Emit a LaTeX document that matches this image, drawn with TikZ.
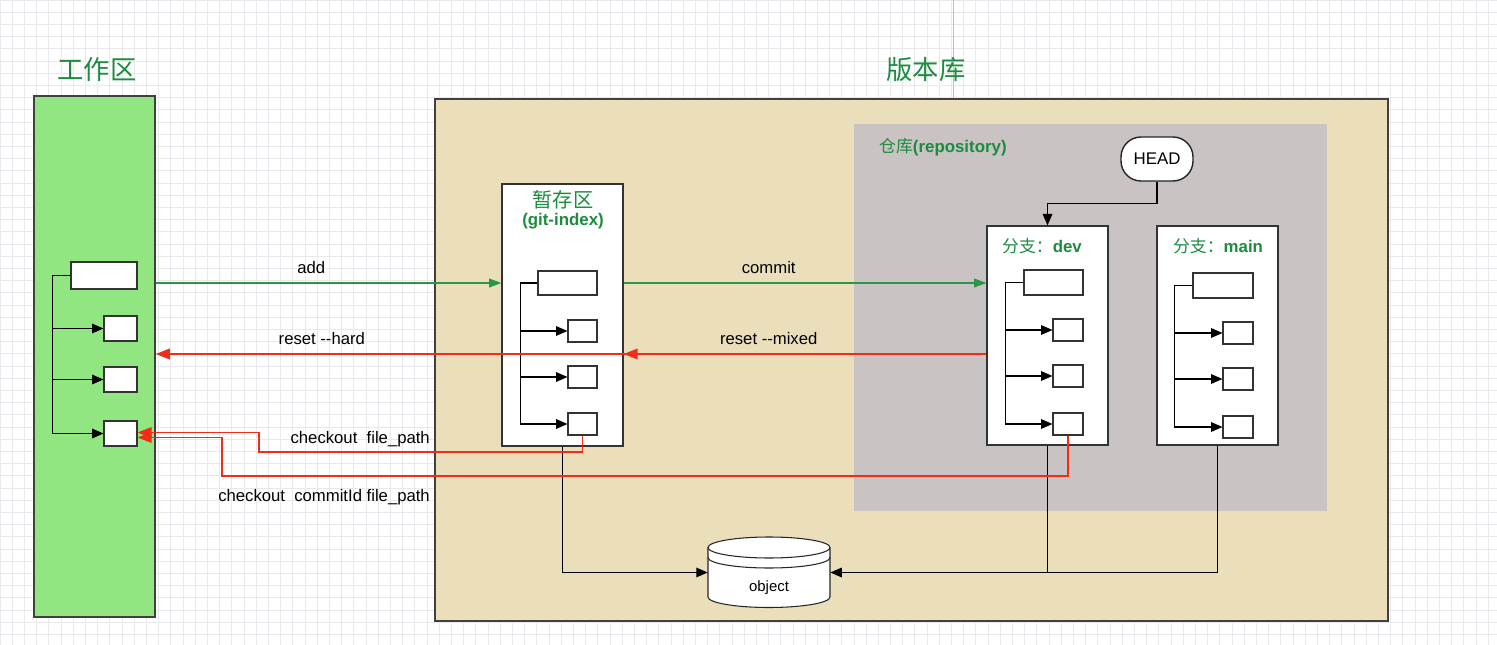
\documentclass[tikz,border=0pt]{standalone}
\usepackage{fontspec}
\setmainfont{Liberation Sans}
\newfontfamily\cjk{Noto Sans CJK SC}
\usepackage{tikz}
\usetikzlibrary{arrows.meta, positioning, fit}

\definecolor{workgreen}{RGB}{146,230,130}
\definecolor{titlegreen}{RGB}{28,140,62}
\definecolor{repobeige}{RGB}{235,223,187}
\definecolor{repogray}{RGB}{201,195,196}
\definecolor{arrowred}{RGB}{240,45,25}
\definecolor{arrowgreen}{RGB}{45,150,70}
\definecolor{gridgray}{RGB}{232,232,237}

\begin{document}
\begin{tikzpicture}[x=0.02cm, y=0.02cm,
    area/.style={draw=black!75, inner sep=0, line width=0.8pt},
    panel/.style={draw=black!80, fill=white, inner sep=0, line width=0.7pt},
    filebox/.style={draw=black!80, fill=white, inner sep=0, line width=0.6pt},
    tree/.style={black, line width=0.6pt},
    treearrow/.style={tree, -{Triangle[length=6.5pt, width=5.5pt]}},
    addarrow/.style={arrowgreen, line width=0.7pt, -{Triangle[length=7pt, width=5pt]}},
    resetarrow/.style={arrowred, line width=1pt, -{Triangle[length=8pt, width=6pt]}},
    cmd/.style={text=black, font=\fontsize{9.5}{11}\selectfont},
    bigtitle/.style={font=\cjk\fontsize{15}{17}\selectfont, text=titlegreen},
    subtitle/.style={font=\bfseries\fontsize{9.6}{12}\selectfont, text=titlegreen}]

    \useasboundingbox (0,0) rectangle (1497,-645);

    % paper grid
    \fill[white] (0,0) rectangle (1497,-645);
    \draw[gridgray, line width=0.4pt, xstep=0.244cm, ystep=0.244cm] (0,0) grid (1497,-645);
    \draw[black!25, line width=0.5pt] (953,0) -- (953,-99);

    % work area
    \node[bigtitle] (worktitle) at (97,-70) {工作区};
    \node[area, fill=workgreen, fit={(34,-96) (155,-617)}] (work) {};

    % repository area
    \node[bigtitle] (repotitle) at (926,-70) {版本库};
    \node[area, fill=repobeige, fit={(435,-99) (1388,-621)}] (repo) {};
    \node[fill=repogray, inner sep=0, fit={(854,-124) (1327,-511)}] (store) {};
    \node[subtitle, anchor=west] (storetitle) at (873,-147) {{\cjk\mdseries 仓库}(repository)};

    % HEAD
    \node[draw=black!85, fill=white, line width=0.8pt, rounded corners=0.4cm,
          minimum width=1.44cm, minimum height=0.88cm, font=\fontsize{9.6}{11}\selectfont] (head) at (1157,-159) {HEAD};

    % panels
    \node[panel, fit={(502,-184) (623,-446)}] (stage) {};
    \node[font=\cjk\fontsize{11.5}{14}\selectfont, text=titlegreen] (stagetitle) at (563,-200) {暂存区};
    \node[subtitle] (stageindex) at (563,-221) {(git-index)};
    \node[panel, fit={(987,-226) (1108,-445)}] (dev) {};
    \node[subtitle] (devtitle) at (1042,-246) {{\cjk\mdseries 分支：}dev};
    \node[panel, fit={(1157,-226) (1278,-445)}] (main) {};
    \node[subtitle] (maintitle) at (1218,-246) {{\cjk\mdseries 分支：}main};

    % files in work area
    \node[filebox, minimum width=1.32cm, minimum height=0.54cm] (w0) at (104,-275.5) {};
    \foreach \i/\y in {1/-328.5, 2/-379.5, 3/-433.5}
        \node[filebox, minimum width=0.66cm, minimum height=0.5cm] (w\i) at (120.5,\y) {};
    \draw[tree] (w0.west) -- ++(-18,0) coordinate (wt) -- (wt |- w3.west);
    \foreach \i in {1,2,3}
        \draw[treearrow] (wt |- w\i.west) -- (w\i.west);

    % files in index
    \node[filebox, minimum width=1.18cm, minimum height=0.48cm] (s0) at (567.5,-283) {};
    \foreach \i/\y in {1/-331, 2/-377, 3/-424}
        \node[filebox, minimum width=0.58cm, minimum height=0.44cm] (s\i) at (582.5,\y) {};
    \draw[tree] (s0.west) -- ++(-17,0) coordinate (st) -- (st |- s3.west);
    \foreach \i in {1,2,3}
        \draw[treearrow] (st |- s\i.west) -- (s\i.west);

    % files in dev
    \node[filebox, minimum width=1.18cm, minimum height=0.5cm] (d0) at (1053.5,-282.5) {};
    \foreach \i/\y in {1/-330, 2/-376, 3/-424}
        \node[filebox, minimum width=0.6cm, minimum height=0.44cm] (d\i) at (1068,\y) {};
    \draw[tree] (d0.west) -- ++(-18,0) coordinate (dt) -- (dt |- d3.west);
    \foreach \i in {1,2,3}
        \draw[treearrow] (dt |- d\i.west) -- (d\i.west);

    % files in main
    \node[filebox, minimum width=1.2cm, minimum height=0.5cm] (m0) at (1223,-285.5) {};
    \foreach \i/\y in {1/-333, 2/-379, 3/-427}
        \node[filebox, minimum width=0.6cm, minimum height=0.44cm] (m\i) at (1238,\y) {};
    \draw[tree] (m0.west) -- ++(-18,0) coordinate (mt) -- (mt |- m3.west);
    \foreach \i in {1,2,3}
        \draw[treearrow] (mt |- m\i.west) -- (m\i.west);

    % HEAD points at dev
    \draw[treearrow] (head.south) -- ++(0,-22) -| (dev.north);

    % object store
    \node[inner sep=0, minimum width=2.44cm, minimum height=1.42cm] (obj) at (769,-572.5) {};
    \filldraw[fill=white, draw=black!85, line width=0.6pt] (708,-547.5) -- (708,-597)
        arc (180:360:1.22cm and 0.21cm) -- (830,-547.5) arc (0:180:1.22cm and 0.21cm) -- cycle;
    \draw[black!85, line width=0.6pt] (708,-547.5) arc (180:360:1.22cm and 0.21cm);
    \draw[black!85, line width=0.6pt] (708,-557.5) arc (180:360:1.22cm and 0.21cm);
    \node[font=\fontsize{8.5}{10}\selectfont] (objtext) at (769,-588) {object};
    \draw[treearrow] (stage.south) |- (obj.west);
    \draw[treearrow] (dev.south) |- (obj.east);
    \draw[tree] (main.south) |- (dev.south |- obj.east);

    % add / commit
    \draw[addarrow] (work.east |- s0.west) -- (stage.west |- s0.west)
        node[cmd, pos=0.45, above=1.5pt] {add};
    \draw[addarrow] (stage.east |- s0.west) -- (dev.west |- s0.west)
        node[cmd, pos=0.4, above=1.5pt] {commit};

    % reset
    \coordinate (rs) at ([yshift=-0.37cm]dev.west);
    \draw[resetarrow] (rs) -- (stage.east |- rs)
        node[cmd, pos=0.6, above=1.5pt] {reset -{}-mixed};
    \draw[resetarrow] (rs) -- (work.east |- rs)
        node[cmd, pos=0.8, above=1.5pt] {reset -{}-hard};

    % checkout
    \draw[resetarrow] (s3.south) |- (259,-452) |- ([yshift=0.02cm]w3.east);
    \node[cmd, anchor=east] (co1) at (436,-439) {checkout\ \ file\_path};
    \draw[resetarrow] (d3.south) |- (222,-476) |- ([yshift=-0.08cm]w3.east);
    \node[cmd, anchor=east] (co2) at (436,-497) {checkout\ \ commitId file\_path};

\end{tikzpicture}
\end{document}
